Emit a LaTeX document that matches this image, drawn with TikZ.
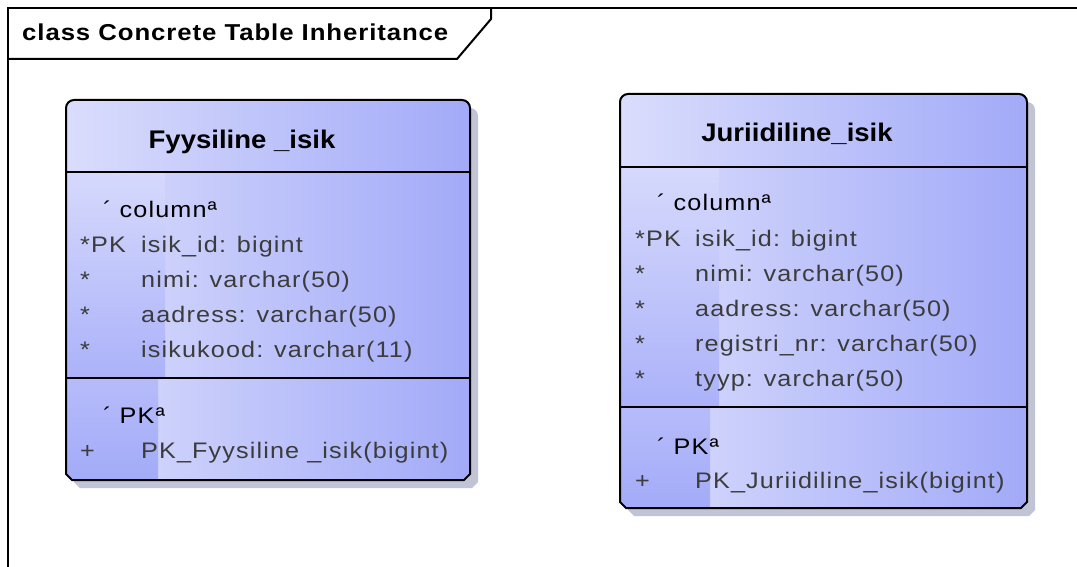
\documentclass[tikz,border=0pt]{standalone}
\usepackage{fontspec}
\setmainfont{Liberation Sans}
\newfontfamily\bodyf{Liberation Sans}[FakeStretch=1.12,LetterSpace=5]
\newfontfamily\titlef{Liberation Sans}[FakeStretch=1.12,LetterSpace=4]
\newfontfamily\headf{Liberation Sans}[FakeStretch=1.08]
\definecolor{attrgray}{HTML}{3C3C3C}
\definecolor{fillL}{HTML}{DADDFC}
\definecolor{fillM}{HTML}{CBD0FB}
\definecolor{fillR}{HTML}{A2AAF8}
\definecolor{stripTop}{HTML}{D6D9FC}
\definecolor{stripBot}{HTML}{ABB2F9}
\definecolor{pkTop}{HTML}{B6BCFA}
\definecolor{pkBot}{HTML}{A3ABF8}
\definecolor{shadowc}{HTML}{C0C4D4}
% table outline: rounded top corners, chamfered bottom corners
% #1 options, #2 left, #3 top, #4 right, #5 bottom (pixel-like units, y downwards)
\newcommand\tblpath[5]{%
  \path[#1] (#2,{-(#5-6)}) -- (#2,{-(#3+8)})
    arc[start angle=180,end angle=90,radius=8pt] -- ({#4-8},-#3)
    arc[start angle=90,end angle=0,radius=8pt] -- (#4,{-(#5-6)})
    -- ({#4-6},-#5) -- ({#2+6},-#5) -- cycle;}
% full table body: shadow, gradient fill, left strips, outline, separators
% #1 L, #2 T, #3 R, #4 B, #5 first separator, #6 second separator, #7 strip right, #8 pk strip right
\newcommand\tblbody[8]{%
  \begin{scope}[shift={(8,-8)}]
    \tblpath{fill=shadowc}{#1}{#2}{#3}{#4}
  \end{scope}
  \begin{scope}
    \tblpath{clip}{#1}{#2}{#3}{#4}
    \shade[left color=fillL,middle color=fillM,right color=fillR] (#1,-#2) rectangle (#3,-#4);
    \shade[top color=stripTop,bottom color=stripBot] (#1,-#5) rectangle (#7,-#6);
    \shade[top color=pkTop,bottom color=pkBot] (#1,-#6) rectangle (#8,-#4);
  \end{scope}
  \tblpath{draw=black,line width=2pt,line join=round}{#1}{#2}{#3}{#4}
  \draw[line width=2pt] (#1,-#5) -- (#3,-#5);
  \draw[line width=2pt] (#1,-#6) -- (#3,-#6);}
\tikzset{
  attr/.style={anchor=base west,inner sep=0pt,text=attrgray,font=\bodyf\fontsize{22.5}{26}\selectfont},
  stereo/.style={anchor=base west,inner sep=0pt,text=black,font=\bodyf\fontsize{22.5}{26}\selectfont},
  header/.style={anchor=base,inner sep=0pt,text=black,font=\headf\bfseries\fontsize{25.5}{30}\selectfont},
  frametitle/.style={anchor=base west,inner sep=0pt,text=black,font=\titlef\bfseries\fontsize{23}{27}\selectfont}
}
\begin{document}
\begin{tikzpicture}[x=1pt,y=1pt]
\useasboundingbox (0,0) rectangle (1077,-567);
\fill[white] (0,0) rectangle (1077,-567);

% diagram frame with its name tab
\draw[line width=2pt] (8,-580) -- (8,-8) -- (1090,-8);
\draw[line width=2pt,line join=miter] (8,-59) -- (457,-59) -- (491,-19) -- (491,-8);
\node[frametitle] (frame) at (22,-40.5) {class Concrete Table Inheritance};

% table Fyysiline _isik
\tblbody{66}{100}{470}{480}{172}{378}{165}{158}
\node[header] (f-name) at (242,-149) {Fyysiline \_isik};
\node[stereo] (f-col) at (103,-218) {´ columnª};
\node[attr] (f-pk1) at (80,-252) {*PK};
\node[attr] (f-pk2) at (141,-252) {isik\_id: bigint};
\node[attr] (f-n1) at (80,-287) {*};
\node[attr] (f-n2) at (141,-287) {nimi: varchar(50)};
\node[attr] (f-a1) at (80,-322) {*};
\node[attr] (f-a2) at (141,-322) {aadress: varchar(50)};
\node[attr] (f-i1) at (80,-357) {*};
\node[attr] (f-i2) at (141,-357) {isikukood: varchar(11)};
\node[stereo] (f-pks) at (103,-423) {´ PKª};
\node[attr] (f-op1) at (80,-458) {+};
\node[attr] (f-op2) at (141,-458) {PK\_Fyysiline \_isik(bigint)};

% table Juriidiline_isik
\tblbody{620}{94}{1027}{508}{167}{407}{719}{710}
\node[header] (j-name) at (797,-142) {Juriidiline\_isik};
\node[stereo] (j-col) at (657,-211) {´ columnª};
\node[attr] (j-pk1) at (635,-246.5) {*PK};
\node[attr] (j-pk2) at (695,-246.5) {isik\_id: bigint};
\node[attr] (j-n1) at (635,-281.5) {*};
\node[attr] (j-n2) at (695,-281.5) {nimi: varchar(50)};
\node[attr] (j-a1) at (635,-316.5) {*};
\node[attr] (j-a2) at (695,-316.5) {aadress: varchar(50)};
\node[attr] (j-r1) at (635,-351.5) {*};
\node[attr] (j-r2) at (695,-351.5) {registri\_nr: varchar(50)};
\node[attr] (j-t1) at (635,-386.5) {*};
\node[attr] (j-t2) at (695,-386.5) {tyyp: varchar(50)};
\node[stereo] (j-pks) at (657,-454) {´ PKª};
\node[attr] (j-op1) at (635,-488) {+};
\node[attr] (j-op2) at (695,-488) {PK\_Juriidiline\_isik(bigint)};
\end{tikzpicture}
\end{document}
